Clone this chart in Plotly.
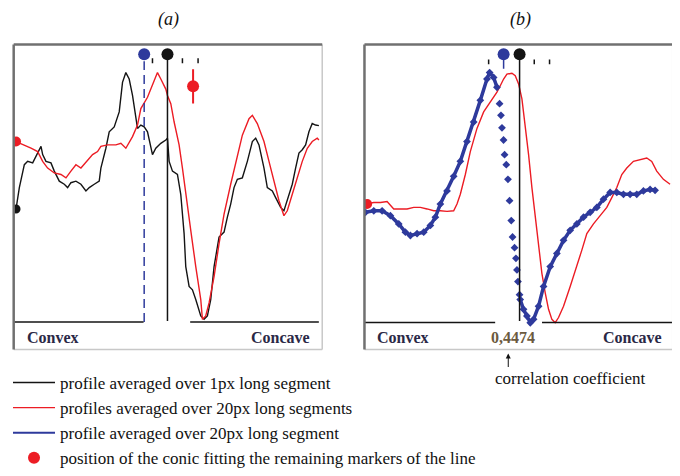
import plotly.graph_objects as go

# ---------------- data (profile position 0-100, intensity 0-100) ----------------
# Panel (a)
black_a_x = [0.76, 1.83, 3.45, 4.53, 6.15, 7.77, 8.85, 9.39, 10.46, 12.08, 13.16, 14.78, 16.40, 17.48,
             18.55, 20.17, 21.79, 23.41, 24.49, 26.11, 27.72, 28.26, 29.88, 30.96, 32.58, 34.20, 35.27,
             36.35, 37.43, 38.51, 39.59, 40.13, 41.21, 42.29, 43.37, 44.98, 46.06, 47.68, 49.30, 49.84,
             50.38, 51.46, 53.07, 54.15, 55.23, 55.77, 56.85, 57.93, 59.01, 60.63, 61.70, 62.78, 63.86,
             64.94, 66.56, 68.18, 69.26, 70.33, 71.41, 72.49, 74.11, 75.73, 77.35, 78.43, 79.50, 81.12,
             82.20, 83.82, 84.90, 86.52, 87.59, 88.67, 90.29, 91.37, 92.45, 93.53, 94.61, 95.69, 96.76,
             97.84, 98.92]
black_a_y = [46.1, 53.1, 60.6, 61.7, 61.2, 64.4, 66.6, 63.9, 61.7, 61.2, 58.5, 55.2, 54.2, 53.1,
             54.7, 55.2, 54.2, 52.0, 53.1, 54.2, 55.2, 59.5, 66.0, 71.4, 73.0, 77.9, 87.6,
             90.8, 88.7, 83.3, 76.8, 72.5, 73.6, 73.0, 71.4, 63.9, 66.0, 67.6, 68.7, 69.3,
             61.7, 58.5, 57.4, 50.9, 38.0, 27.2, 20.7, 19.6, 16.4, 11.0, 9.9, 11.0, 16.4,
             27.2, 36.9, 38.5, 43.4, 47.7, 53.1, 55.8, 56.3, 61.7, 68.2, 69.3, 67.1, 59.5,
             53.1, 52.0, 49.8, 46.6, 45.5, 48.8, 54.2, 59.5, 64.4, 65.5, 67.1, 71.4, 74.1,
             73.6, 73.4]
red_a_x = [0.76, 3.45, 5.61, 7.77, 9.39, 11.00, 13.16, 15.32, 16.94, 18.55, 20.17, 21.79, 23.95, 25.57,
           27.18, 28.26, 30.42, 33.12, 34.74, 36.35, 38.51, 40.13, 41.21, 43.37, 45.52, 46.60, 47.68,
           49.30, 49.84, 50.92, 52.00, 53.61, 54.69, 55.77, 57.39, 59.01, 60.63, 61.17, 62.24, 63.32,
           64.94, 66.56, 68.18, 70.33, 72.49, 74.11, 76.27, 77.35, 78.96, 81.12, 82.74, 84.36, 85.98,
           87.59, 88.67, 90.29, 91.91, 93.53, 95.15, 96.76, 98.38, 98.92]
red_a_y = [68.2, 67.1, 66.0, 64.9, 61.7, 59.5, 57.9, 57.4, 56.3, 58.5, 60.6, 59.5, 62.2, 63.9,
           64.9, 66.6, 67.1, 67.1, 67.6, 66.0, 69.8, 73.6, 79.0, 82.7, 88.1, 90.8, 88.7,
           85.4, 83.3, 80.6, 74.6, 67.1, 59.5, 50.9, 39.1, 27.2, 16.4, 9.9, 11.0, 15.3,
           23.9, 34.7, 44.4, 54.2, 63.9, 70.3, 75.7, 76.8, 74.1, 68.2, 61.7, 55.2, 48.8,
           43.9, 45.5, 50.9, 56.3, 61.7, 66.0, 68.2, 69.3, 68.7]
conic_a_x = [58.14]
conic_a_y = [86.3]
conic_a_err = [5.6]
blue_pos_a, black_pos_a = 42.29, 49.84
ticks_a_x = [44.98, 54.69, 59.76]

# Panel (b)
blue_rise_x = [0.32, 3.02, 5.72, 8.42, 11.12, 13.28, 14.90, 17.06, 19.22, 21.38, 23.00, 24.62, 26.78,
               28.94, 31.10, 33.26, 35.42, 37.58, 39.74, 40.60, 41.90, 42.98]
blue_rise_y = [45.0, 45.5, 45.5, 43.9, 41.2, 38.5, 37.4, 38.0, 38.5, 40.7, 43.4, 47.7, 52.0,
               56.8, 61.7, 68.2, 74.6, 81.7, 88.7, 90.8, 89.2, 86.0]
blue_drop_x = [43.83, 44.28, 44.61, 45.12, 45.45, 46.00, 46.55, 47.07, 47.62, 48.04, 48.69, 49.14,
               49.47, 49.79, 50.31]
blue_drop_y = [80.6, 76.8, 72.7, 68.7, 63.9, 60.6, 55.8, 48.8, 42.3, 36.9, 33.4, 29.9, 26.1, 22.3, 18.0]
blue_tail_x = [50.53, 51.6, 52.7, 53.8, 54.86, 56.48, 58.1, 60.26, 62.42, 64.58, 66.74, 68.9, 71.06,
               73.22, 75.38, 77.54, 79.7, 81.86, 84.02, 86.18, 88.34, 90.5, 92.66, 94.28]
blue_tail_y = [16.4, 13.2, 11.0, 8.8, 9.9, 14.2, 20.7, 27.2, 31.5, 35.8, 39.1, 41.2, 43.4,
               45.0, 46.6, 49.3, 51.5, 51.5, 50.9, 50.9, 50.9, 52.0, 52.5, 52.2]
red_b_x = [0.32, 3.02, 5.18, 7.34, 9.50, 11.66, 13.82, 15.98, 18.14, 20.30, 22.46, 24.62, 26.78, 28.94,
           30.02, 31.10, 32.72, 34.34, 36.50, 38.66, 40.82, 42.98, 44.06, 45.14, 46.22, 47.84, 48.92,
           50.00, 51.08, 52.16, 53.24, 54.32, 55.40, 56.48, 57.56, 58.64, 59.72, 60.80, 61.88, 62.96,
           64.58, 66.74, 68.90, 70.52, 72.14, 74.30, 76.46, 78.62, 80.24, 81.86, 83.48, 85.10, 87.26,
           89.42, 91.58, 93.20, 94.82, 96.98, 99.14]
red_b_y = [47.7, 48.2, 48.2, 48.5, 46.1, 46.1, 46.1, 46.6, 46.6, 46.1, 45.5, 45.5, 45.3, 45.5,
           47.7, 50.9, 57.4, 64.9, 72.5, 77.9, 81.1, 84.4, 86.5, 88.7, 90.3, 90.6, 89.8,
           87.1, 82.2, 73.6, 63.9, 53.1, 43.4, 33.7, 25.0, 18.6, 13.2, 9.9, 8.8, 10.5,
           14.2, 20.7, 27.2, 32.6, 38.0, 41.2, 43.9, 46.6, 49.8, 53.1, 57.4, 59.5, 61.7,
           62.2, 62.8, 61.7, 58.5, 55.8, 54.2]
blue_pos_b, black_pos_b = 45.14, 50.32
ticks_b_x = [40.28, 55.08, 60.04]
correlation_b = "0,4474"

panel_titles = ["(a)", "(b)"]
side_labels = ["Convex", "Concave"]
legend_labels = ["profile averaged over 1px long segment",
                 "profiles averaged over 20px long segments",
                 "profile averaged over 20px long segment",
                 "position of the conic fitting the remaining markers of the line"]
note_label = "correlation coefficient"

# ---------------- styling ----------------
BLACK = "#141414"
RED = "#ec1c24"
BLUE = "#2e3a9c"
TXT = "#2a2846"
OFF = 8                      # default page body margin
W, H = 680 - OFF, 476 - OFF
BASE_Y = 9.0
TOP_Y = 96.8

def px_x(p):
    return (p - OFF) / W

def px_y(p):
    return 1 - (p - OFF) / H

fig = go.Figure()

# panel a
fig.add_trace(go.Scatter(x=black_a_x, y=black_a_y, mode="lines", line=dict(color=BLACK, width=1.4),
                         name=legend_labels[0], legendgroup="g1", legendrank=1, xaxis="x", yaxis="y"))
fig.add_trace(go.Scatter(x=red_a_x, y=red_a_y, mode="lines", line=dict(color=RED, width=1.4),
                         name=legend_labels[1], legendgroup="g2", legendrank=2, xaxis="x", yaxis="y"))
fig.add_trace(go.Scatter(x=[black_a_x[0]], y=[black_a_y[0]], mode="markers",
                         marker=dict(color=BLACK, size=9), showlegend=False, xaxis="x", yaxis="y"))
fig.add_trace(go.Scatter(x=[red_a_x[0]], y=[red_a_y[0]], mode="markers",
                         marker=dict(color=RED, size=10), showlegend=False, xaxis="x", yaxis="y"))
fig.add_trace(go.Scatter(x=[blue_pos_a, blue_pos_a], y=[BASE_Y, 94.5], mode="lines",
                         line=dict(color=BLUE, width=1.5, dash="9px,5px"), showlegend=False, xaxis="x", yaxis="y"))
fig.add_trace(go.Scatter(x=[black_pos_a, black_pos_a], y=[9.4, TOP_Y], mode="lines",
                         line=dict(color=BLACK, width=1.5), showlegend=False, xaxis="x", yaxis="y"))
fig.add_trace(go.Scatter(x=[blue_pos_a, black_pos_a], y=[TOP_Y, TOP_Y], mode="markers",
                         marker=dict(color=[BLUE, BLACK], size=12), showlegend=False, xaxis="x", yaxis="y"))
tx, ty = [], []
for t in ticks_a_x:
    tx += [t, t, None]
    ty += [93.9, 95.5, None]
fig.add_trace(go.Scatter(x=tx, y=ty, mode="lines", line=dict(color=BLACK, width=1.5),
                         showlegend=False, xaxis="x", yaxis="y"))
fig.add_trace(go.Scatter(x=[0, 42.1, None, 57.2, 98.9], y=[BASE_Y, BASE_Y, None, BASE_Y, BASE_Y], mode="lines",
                         line=dict(color=BLACK, width=1.5), showlegend=False, xaxis="x", yaxis="y"))
fig.add_trace(go.Scatter(x=conic_a_x, y=conic_a_y, mode="markers",
                         marker=dict(color=RED, size=12),
                         error_y=dict(type="data", array=conic_a_err, color=RED, thickness=2, width=0),
                         name=legend_labels[3], legendgroup="g4", legendrank=4, xaxis="x", yaxis="y"))

# panel b
fig.add_trace(go.Scatter(x=red_b_x, y=red_b_y, mode="lines", line=dict(color=RED, width=1.4),
                         showlegend=False, xaxis="x2", yaxis="y2"))
for bx, by in [(blue_rise_x, blue_rise_y), (blue_tail_x, blue_tail_y)]:
    fig.add_trace(go.Scatter(x=bx, y=by, mode="lines+markers", line=dict(color=BLUE, width=3.5),
                             marker=dict(color=BLUE, size=6, symbol="diamond", line=dict(width=0)),
                             showlegend=False, xaxis="x2", yaxis="y2"))
fig.add_trace(go.Scatter(x=blue_rise_x, y=blue_rise_y, mode="lines", line=dict(color=BLUE, width=2),
                         name=legend_labels[2], legendgroup="g3", legendrank=3, xaxis="x2", yaxis="y2"))
fig.add_trace(go.Scatter(x=blue_drop_x, y=blue_drop_y, mode="markers",
                         marker=dict(color=BLUE, size=6, symbol="diamond", line=dict(width=0)),
                         showlegend=False, xaxis="x2", yaxis="y2"))
fig.add_trace(go.Scatter(x=[0.86], y=[red_b_y[0]], mode="markers",
                         marker=dict(color=RED, size=10), showlegend=False, xaxis="x2", yaxis="y2"))
fig.add_trace(go.Scatter(x=[blue_pos_b, blue_pos_b], y=[92.1, TOP_Y], mode="lines",
                         line=dict(color=BLUE, width=1.5), showlegend=False, xaxis="x2", yaxis="y2"))
fig.add_trace(go.Scatter(x=[black_pos_b, black_pos_b], y=[9.4, TOP_Y], mode="lines",
                         line=dict(color=BLACK, width=1.5), showlegend=False, xaxis="x2", yaxis="y2"))
fig.add_trace(go.Scatter(x=[blue_pos_b, black_pos_b], y=[TOP_Y, TOP_Y], mode="markers",
                         marker=dict(color=[BLUE, BLACK], size=12), showlegend=False, xaxis="x2", yaxis="y2"))
tx, ty = [], []
for t in ticks_b_x:
    tx += [t, t, None]
    ty += [93.5, 95.1, None]
fig.add_trace(go.Scatter(x=tx, y=ty, mode="lines", line=dict(color=BLACK, width=1.5),
                         showlegend=False, xaxis="x2", yaxis="y2"))
fig.add_trace(go.Scatter(x=[0, 42.4, None, 57.6, 100], y=[8.85, 8.85, None, 8.85, 8.85], mode="lines",
                         line=dict(color=BLACK, width=1.5), showlegend=False, xaxis="x2", yaxis="y2"))

# ---------------- layout ----------------
ax_common = dict(range=[0, 100], showgrid=False, zeroline=False, showticklabels=False,
                 ticks="", showline=False, fixedrange=True)
fig.update_layout(
    width=W, height=H,
    margin=dict(l=0, r=0, t=0, b=0),
    paper_bgcolor="white", plot_bgcolor="white",
    xaxis=dict(domain=[px_x(12.7), px_x(321.7)], anchor="y", **ax_common),
    yaxis=dict(domain=[px_y(354), px_y(45)], anchor="x", **ax_common),
    xaxis2=dict(domain=[px_x(364), px_x(672.7)], anchor="y2", **ax_common),
    yaxis2=dict(domain=[px_y(354), px_y(45)], anchor="x2", **ax_common),
    showlegend=True,
    legend=dict(x=px_x(7), y=px_y(370), xanchor="left", yanchor="top",
                font=dict(family="Liberation Serif", size=17, color="#111"),
                itemwidth=42, tracegroupgap=8, bgcolor="rgba(0,0,0,0)",
                traceorder="normal"),
)

shapes = []
for xr, yr in [("x domain", "y domain"), ("x2 domain", "y2 domain")]:
    shapes.append(dict(type="line", xref=xr, yref=yr, x0=1, x1=1, y0=0, y1=1, line=dict(color="#c8c8c8", width=1.5)))
    shapes.append(dict(type="line", xref=xr, yref=yr, x0=0, x1=1, y0=0, y1=0, line=dict(color="#c8c8c8", width=1.5)))
    shapes.append(dict(type="line", xref=xr, yref=yr, x0=0, x1=0, y0=0, y1=1, line=dict(color="#707070", width=2.5)))
    shapes.append(dict(type="line", xref=xr, yref=yr, x0=0, x1=1, y0=1, y1=1, line=dict(color="#707070", width=2.5)))
fig.update_layout(shapes=shapes)

ann = []
tfont = dict(family="Liberation Serif", size=18, color="#111")
for t, cx in zip(panel_titles, [168, 520]):
    ann.append(dict(text="<i>%s</i>" % t, x=px_x(cx), y=px_y(20), xref="paper", yref="paper",
                    xanchor="center", yanchor="middle", showarrow=False, font=tfont))
pfont = dict(family="Liberation Serif", size=16, color=TXT, weight="bold")
for xr, yr, cx in [("x", "y", (12.6, 86.5)), ("x2", "y2", (12.4, 86.9))]:
    ann.append(dict(text=side_labels[0], x=cx[0], y=3.8, xref=xr, yref=yr, xanchor="center",
                    yanchor="middle", showarrow=False, font=pfont))
    ann.append(dict(text=side_labels[1], x=cx[1], y=3.8, xref=xr, yref=yr, xanchor="center",
                    yanchor="middle", showarrow=False, font=pfont))
ann.append(dict(text=correlation_b, x=48.06, y=3.8, xref="x2", yref="y2", xanchor="center",
                yanchor="middle", showarrow=False,
                font=dict(family="Liberation Serif", size=16, color="#6c5a3e", weight="bold")))
ann.append(dict(text=note_label, x=px_x(493), y=px_y(383), xref="paper", yref="paper", xanchor="left",
                yanchor="middle", showarrow=False, font=dict(family="Liberation Serif", size=17, color="#111")))
ann.append(dict(text="", x=px_x(508), y=px_y(358), xref="paper", yref="paper", showarrow=True,
                ax=0, ay=15, arrowhead=2, arrowsize=1, arrowwidth=1, arrowcolor="#111"))
fig.update_layout(annotations=ann)

fig.write_html("out.html")
